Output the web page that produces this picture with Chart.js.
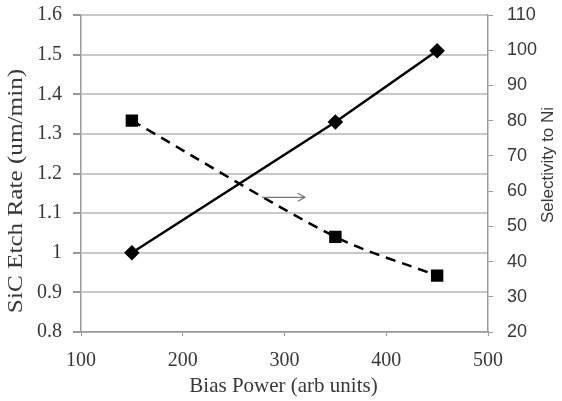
<!DOCTYPE html>
<html>
<head>
<meta charset="utf-8">
<script src="https://cdn.jsdelivr.net/npm/chart.js@4.4.1/dist/chart.umd.min.js"></script>
<style>
  html, body { margin: 0; padding: 0; background: #fff; }
  #wrap { width: 562px; height: 401px; }
</style>
</head>
<body>
<div id="wrap"><canvas id="chart"></canvas></div>
<script>
// values
var biasPower = [150, 350, 450];
var etchRate = [1.0, 1.33, 1.51];
var selectivity = [80, 47, 36];

// arrow pointing at the right axis (x from, x to, y on left axis)
var arrowX = [278, 320];
var arrowY = 1.14;

function toPoints(xs, ys) {
    return xs.map(function (x, i) { return { x: x, y: ys[i] }; });
}

var serifTicks = { family: 'Liberation Serif', size: 20 };
var sansTicks = { family: 'Liberation Sans', size: 18 };
var txt = '#383838';
var gridCol = '#c8c8c8';

// draws a rotated (bottom to top) title, optionally stretched along its length
function vTitle(ctx, text, x, y, font, stretch) {
    ctx.save();
    ctx.translate(x, y);
    ctx.rotate(-Math.PI / 2);
    ctx.scale(stretch, 1);
    ctx.fillStyle = txt;
    ctx.font = font;
    ctx.textAlign = 'center';
    ctx.textBaseline = 'middle';
    ctx.fillText(text, 0, 0);
    ctx.restore();
}

// arrow + axis titles
var extrasPlugin = {
    id: 'extras',
    afterDatasetsDraw: function (chart) {
        var ctx = chart.ctx;
        var xs = chart.scales.x, ys = chart.scales.y;
        var x0 = xs.getPixelForValue(arrowX[0]);
        var x1 = xs.getPixelForValue(arrowX[1]);
        var y = ys.getPixelForValue(arrowY);
        ctx.save();
        ctx.strokeStyle = '#777';
        ctx.lineWidth = 1.3;
        ctx.beginPath();
        ctx.moveTo(x0, y);
        ctx.lineTo(x1, y);
        ctx.moveTo(x1 - 7, y - 4);
        ctx.lineTo(x1, y);
        ctx.lineTo(x1 - 7, y + 4);
        ctx.stroke();

        ctx.fillStyle = txt;
        ctx.font = '21px "Liberation Serif"';
        ctx.textAlign = 'center';
        ctx.textBaseline = 'middle';
        ctx.fillText('Bias Power (arb units)', (chart.chartArea.left + chart.chartArea.right) / 2 - 1, 386);
        ctx.restore();

        vTitle(ctx, 'SiC Etch Rate (um/min)', 17, 191, '20px "Liberation Serif"', 1.26);
        vTitle(ctx, 'Selectivity to Ni', 548, 165, '17px "Liberation Sans"', 1.0);
    }
};

function trimNum(v) {
    return String(Number(v.toFixed(2)));
}

function noVPad(s) {
    s.paddingTop = 0;
    s.paddingBottom = 0;
}

new Chart(document.getElementById('chart').getContext('2d'), {
    type: 'scatter',
    data: {
        datasets: [{
            label: 'SiC Etch Rate',
            data: toPoints(biasPower, etchRate),
            yAxisID: 'y',
            showLine: true,
            borderColor: '#000',
            backgroundColor: '#000',
            borderWidth: 2.5,
            pointStyle: 'rectRot',
            pointRadius: 6,
            pointHoverRadius: 6
        }, {
            label: 'Selectivity to Ni',
            data: toPoints(biasPower, selectivity),
            yAxisID: 'y2',
            showLine: true,
            borderColor: '#000',
            backgroundColor: '#000',
            borderWidth: 2.5,
            borderDash: [10, 7],
            tension: 0.3,
            pointStyle: 'rect',
            pointRadius: 7,
            pointHoverRadius: 7
        }]
    },
    options: {
        responsive: true,
        maintainAspectRatio: false,
        animation: false,
        layout: { padding: { top: 15, right: 0, left: 0, bottom: 0 } },
        plugins: {
            legend: { display: false },
            tooltip: { enabled: false }
        },
        scales: {
            x: {
                type: 'linear',
                min: 100, max: 500,
                afterFit: function (s) { s.height = 69; s.paddingLeft = 0; s.paddingRight = 0; },
                ticks: { stepSize: 100, color: txt, font: serifTicks, padding: 13 },
                grid: { drawOnChartArea: false, color: '#999', tickLength: 4 },
                border: { color: '#999', width: 1.5 }
            },
            y: {
                position: 'left',
                min: 0.8, max: 1.6,
                afterFit: function (s) { s.width = 81; noVPad(s); },
                ticks: { stepSize: 0.1, color: txt, font: serifTicks, padding: 11, callback: trimNum },
                grid: { color: gridCol, lineWidth: 2, tickLength: 8, tickColor: '#999' },
                border: { color: '#999', width: 1.5 }
            },
            y2: {
                position: 'right',
                min: 20, max: 110,
                afterFit: function (s) { s.width = 74; noVPad(s); },
                ticks: { stepSize: 10, color: txt, font: sansTicks, padding: 14, callback: trimNum },
                grid: { drawOnChartArea: false, color: '#999', tickLength: 5 },
                border: { color: '#999', width: 1.5 }
            }
        }
    },
    plugins: [extrasPlugin]
});
</script>
</body>
</html>
